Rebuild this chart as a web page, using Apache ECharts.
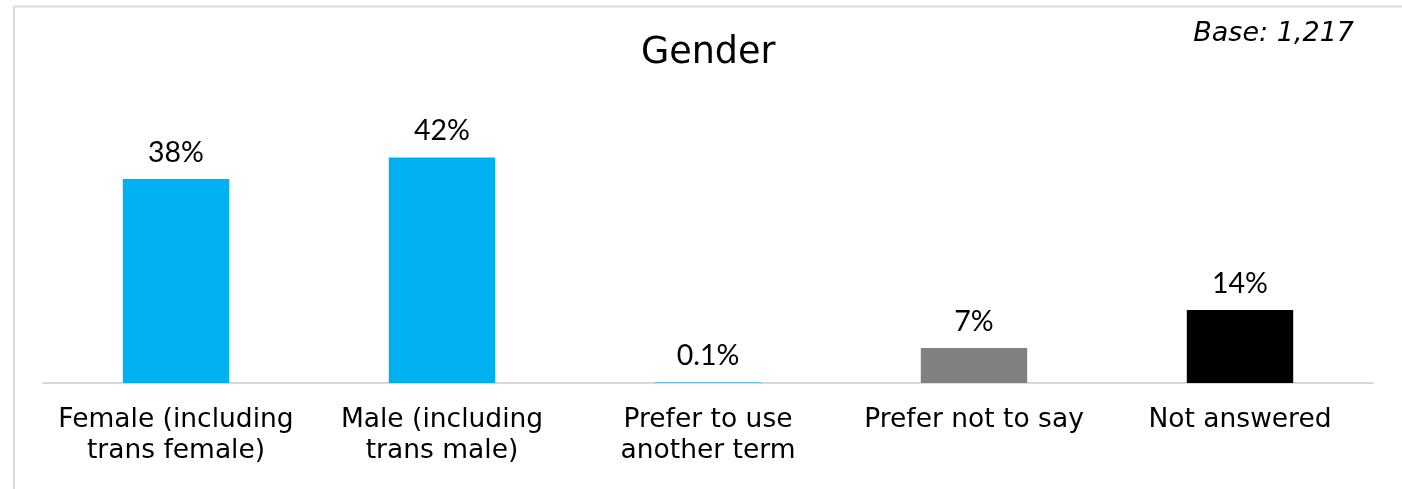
<!DOCTYPE html>
<html><head><meta charset="utf-8">
<script src="https://cdn.jsdelivr.net/npm/echarts@6/dist/echarts.min.js"></script>
<style>html,body{margin:0;padding:0;background:#fff}#c{width:1402px;height:489px}</style>
</head><body><div id="c"></div>
<script>
const categories = ['Female (including\ntrans female)', 'Male (including\ntrans male)', 'Prefer to use\nanother term', 'Prefer not to say', 'Not answered'];
const values = [38, 42, 0.1, 6.5, 13.6];
const colors = ['#00B0F0', '#00B0F0', '#00B0F0', '#808080', '#000000'];
const titleText = 'Gender';
const baseText = 'Base: 1,217';

const chart = echarts.init(document.getElementById('c'));
chart.setOption({
  backgroundColor: '#fff',
  animation: false,
  title: {
    text: titleText, left: 636, top: 30,
    textStyle: { fontFamily: 'DejaVu Sans', fontSize: 36.5, fontWeight: 'normal', color: '#000' }
  },
  graphic: [
    { type: 'rect', shape: { x: 14, y: 6.5, width: 3000, height: 3000 }, style: { fill: 'none', stroke: '#d9d9d9', lineWidth: 2 }, silent: true, z: -1 },
    { type: 'text', right: 48, top: 20, style: { text: baseText, font: 'italic 27px "DejaVu Sans"', fill: '#000' } }
  ],
  grid: { left: 43, right: 29, top: 114.5, bottom: 106, containLabel: false },
  xAxis: {
    type: 'category', data: categories,
    axisLine: { lineStyle: { color: '#d9d9d9', width: 2 } },
    axisTick: { show: false },
    axisLabel: { fontFamily: 'DejaVu Sans', fontSize: 26.5, color: '#000', lineHeight: 31, margin: 22, interval: 0 }
  },
  yAxis: { type: 'value', min: 0, max: 50, show: false, splitLine: { show: false } },
  series: [{
    type: 'bar', barWidth: '40%',
    data: values.map((v, i) => ({ value: v, itemStyle: { color: colors[i] } })),
    label: {
      show: true, position: 'top', distance: 12,
      fontFamily: 'Lato', fontSize: 28.5, color: '#000',
      formatter: p => (p.value < 1 ? p.value.toFixed(1) : Math.round(p.value)) + '%'
    }
  }]
});
</script></body></html>
